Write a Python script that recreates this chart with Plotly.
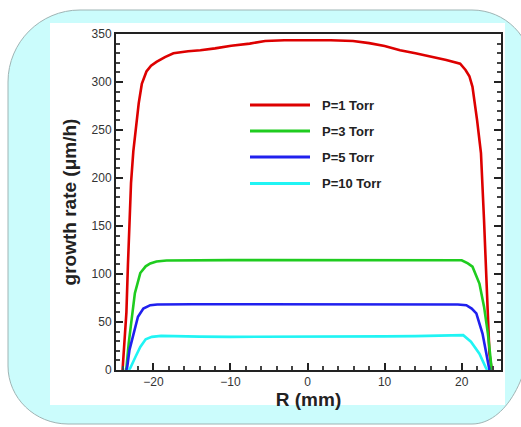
import plotly.graph_objects as go

# ---- data ----
r_p1 = [-24.0, -23.7, -23.5, -23.3, -23.1, -22.9, -22.6, -22.2, -21.9, -21.5, -20.9, -20.3,
        -19.6, -18.5, -17.4, -15.5, -13.9, -12.0, -9.9, -7.5, -5.5, -3.0, 0.0,
        3.0, 5.9, 8.0, 10.0, 12.0, 14.0, 16.3, 18.0, 19.8, 20.5, 21.0, 21.4, 22.0,
        22.5, 22.9, 23.2, 23.6, 23.9]
g_p1 = [0, 35, 60, 110, 160, 195, 228, 255, 278, 298, 311, 317,
        321, 326, 330, 332, 333, 335, 337.8, 340, 342.7, 343.5, 343.7,
        343.5, 342.7, 340.5, 337.5, 333, 330, 326, 323, 319, 312.5, 306, 295, 260,
        226, 156, 87, 17, 0]

r_p3 = [-23.6, -23.5, -23.2, -22.8, -22.4, -21.7, -21.0, -20.4, -19.6, -18.3, -15.0, -10.0,
        -5.0, 0.0, 5.0, 10.0, 15.0, 18.5, 20.0, 20.8, 21.4, 22.3, 22.9, 23.4, 23.8, 23.9]
g_p3 = [0, 2, 28, 55, 80, 101, 108, 111, 113, 114, 114.5, 114.5,
        114.5, 114.5, 114.5, 114.5, 114.5, 114.5, 114.3, 111, 107.6, 90, 66, 38, 7, 0]

r_p5 = [-23.5, -23.4, -23.1, -22.6, -22.0, -21.3, -20.4, -19.5, -18.0, -15.0, -10.0,
        -5.0, 0.0, 5.0, 10.0, 15.0, 18.0, 19.5, 20.6, 21.3, 21.9, 22.7, 23.2, 23.4, 23.6]
g_p5 = [0, 3, 21, 38, 55.5, 64, 67.5, 68.3, 68.5, 68.5, 68.5,
        68.5, 68.5, 68.5, 68.5, 68.5, 68.5, 68.3, 67.5, 64, 59, 38, 17, 7, 0]

r_p10 = [-23.2, -23.0, -22.3, -21.7, -21.0, -20.2, -19.0, -17.0, -14.0, -10.0, -5.0,
         0.0, 5.0, 10.0, 14.0, 17.0, 19.0, 20.2, 21.2, 22.3, 23.1, 23.3]
g_p10 = [0, 2, 14, 24, 32, 34.5, 35.5, 35.5, 34.8, 34.5, 34.5,
         34.5, 34.6, 35, 35.3, 35.8, 36.3, 36.3, 29.5, 17, 3, 0]

series_names = ["P=1 Torr", "P=3 Torr", "P=5 Torr", "P=10 Torr"]
series_r = [r_p1, r_p3, r_p5, r_p10]
series_g = [g_p1, g_p3, g_p5, g_p10]
colors = ["#dd0000", "#1fcc1f", "#2020ee", "#20f4f4"]

x_tick_step, x_minor_step = 10, 2
y_tick_step, y_minor_step = 50, 10

# ---- figure ----
W, H = 521, 427
ML, MR, MT, MB = 116, 20, 34, 57
PW, PH = W - ML - MR, H - MT - MB


def px(x):
    return (x - ML) / PW


def py(y):
    return (H - MB - y) / PH


fig = go.Figure()
for name, rr, gg, c in zip(series_names, series_r, series_g, colors):
    fig.add_trace(go.Scatter(x=rr, y=gg, mode="lines", name=name,
                             line=dict(color=c, width=2.6), showlegend=False))

shapes = []


def rounded_rect(x0, y0, x1, y1, rtl, rtr, rbr, rbl):
    k = 0.5523
    p = []
    p.append(f"M{px(x0 + rtl[0])},{py(y0)}")
    p.append(f"L{px(x1 - rtr[0])},{py(y0)}")
    p.append(f"C{px(x1 - rtr[0] + k * rtr[0])},{py(y0)} {px(x1)},{py(y0 + rtr[1] - k * rtr[1])} {px(x1)},{py(y0 + rtr[1])}")
    p.append(f"L{px(x1)},{py(y1 - rbr[1])}")
    p.append(f"C{px(x1)},{py(y1 - rbr[1] + k * rbr[1])} {px(x1 - rbr[0] + k * rbr[0])},{py(y1)} {px(x1 - rbr[0])},{py(y1)}")
    p.append(f"L{px(x0 + rbl[0])},{py(y1)}")
    p.append(f"C{px(x0 + rbl[0] - k * rbl[0])},{py(y1)} {px(x0)},{py(y1 - rbl[1] + k * rbl[1])} {px(x0)},{py(y1 - rbl[1])}")
    p.append(f"L{px(x0)},{py(y0 + rtl[1])}")
    p.append(f"C{px(x0)},{py(y0 + rtl[1] - k * rtl[1])} {px(x0 + rtl[0] - k * rtl[0])},{py(y0)} {px(x0 + rtl[0])},{py(y0)}")
    p.append("Z")
    return " ".join(p)


shapes.append(dict(type="path", xref="paper", yref="paper", layer="below",
                   path=rounded_rect(8, 10, 532, 424, (72, 72), (60, 60), (60, 105), (60, 58)),
                   fillcolor="#cbfcfc", line=dict(color="#9fb4b4", width=1)))
shapes.append(dict(type="rect", xref="paper", yref="paper", layer="below",
                   x0=px(50), x1=px(505), y0=py(405), y1=py(23),
                   fillcolor="white", line=dict(width=0)))

# legend (drawn manually to match the long sample lines)
leg_y = [105, 131, 157, 183.5]
annotations = []
for name, c, yy in zip(series_names, colors, leg_y):
    shapes.append(dict(type="line", xref="paper", yref="paper",
                       x0=px(250), x1=px(310), y0=py(yy), y1=py(yy),
                       line=dict(color=c, width=3)))
    annotations.append(dict(xref="paper", yref="paper", x=px(320), y=py(yy),
                            xanchor="left", yanchor="middle", showarrow=False,
                            text=name, font=dict(family="Arial", size=13, color="#222", weight="bold")))

fig.update_layout(
    width=W, height=H,
    margin=dict(l=ML, r=MR, t=MT, b=MB, pad=0, autoexpand=False),
    paper_bgcolor="white", plot_bgcolor="white",
    shapes=shapes, annotations=annotations,
    showlegend=False,
    font=dict(family="Arial", color="#222"),
)

fig.update_xaxes(
    range=[-24.85, 25.1], tickmode="linear", tick0=0, dtick=x_tick_step,
    ticks="inside", ticklen=7, tickwidth=2, tickcolor="#222",
    minor=dict(ticks="inside", ticklen=4, tickwidth=1.5, tickcolor="#444", dtick=x_minor_step, showgrid=False),
    showline=True, linecolor="#222", linewidth=2, mirror=True,
    showgrid=False, zeroline=False, automargin=False,
    tickfont=dict(family="Arial", size=12, color="#333"),
    title=dict(text="R (mm)", font=dict(family="Arial", size=19, color="#222", weight="bold"), standoff=2),
)
fig.update_yaxes(
    range=[0, 350], tickmode="linear", tick0=0, dtick=y_tick_step,
    ticks="inside", ticklen=7, tickwidth=2, tickcolor="#222",
    minor=dict(ticks="inside", ticklen=4, tickwidth=1.5, tickcolor="#444", dtick=y_minor_step, showgrid=False),
    showline=True, linecolor="#222", linewidth=2, mirror="allticks",
    showgrid=False, zeroline=False, automargin=False,
    tickfont=dict(family="Arial", size=12, color="#333"),
    title=dict(text="growth rate (μm/h)", font=dict(family="Arial", size=19, color="#222", weight="bold"), standoff=10),
)

fig.write_html("out.html", config={"displayModeBar": False},
               post_script="document.body.style.margin='0';document.body.style.overflow='hidden';")
